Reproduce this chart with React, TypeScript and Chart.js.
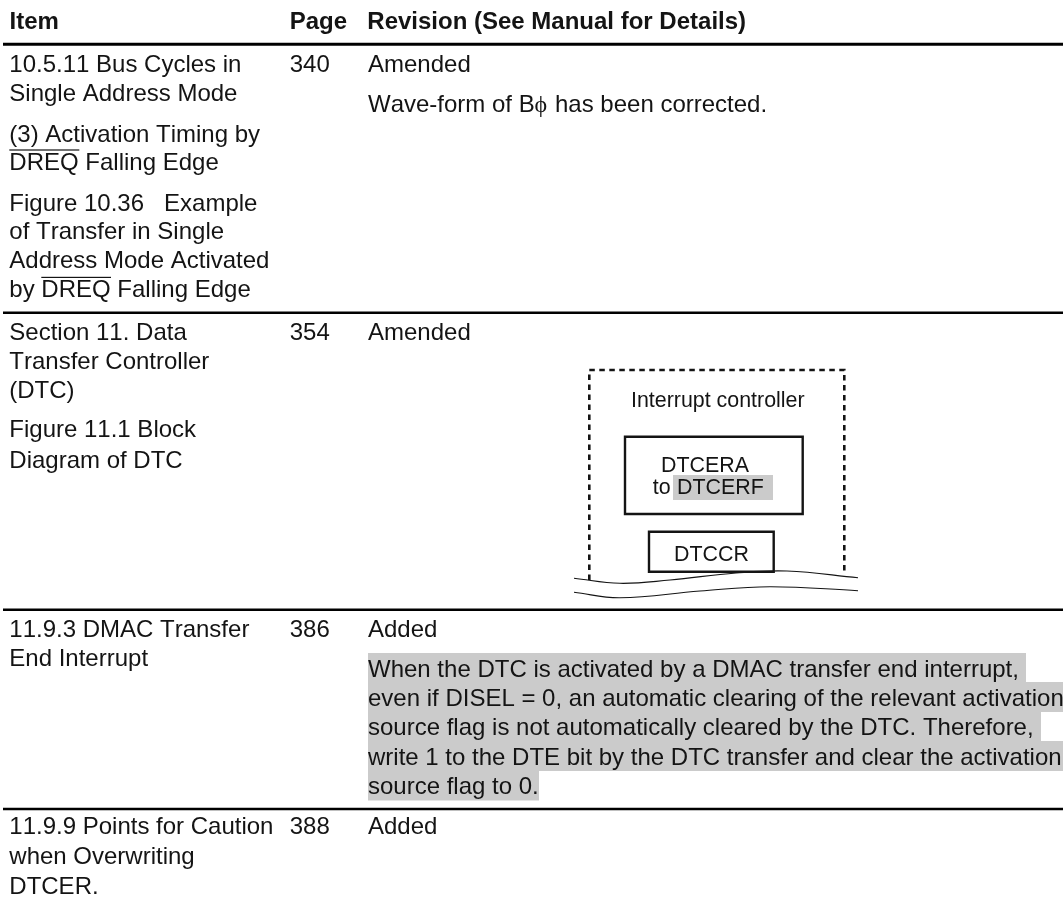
import React, { useEffect, useRef } from "react";
import { Chart, registerables } from "chart.js";

Chart.register(...registerables);

const FONT = '"Liberation Sans", Arial, sans-serif';
const BODY = 24;
const SMALL = 21.4;
const INK = "#141414";
const SHADE = "#cbcbcb";

// Text of the table
const headerLabels = ["Item", "Page", "Revision (See Manual for Details)"];
const itemLines = [
  "10.5.11 Bus Cycles in", "Single Address Mode", "(3) Activation Timing by", "DREQ Falling Edge",
  "Figure 10.36   Example", "of Transfer in Single", "Address Mode Activated", "by DREQ Falling Edge",
  "Section 11. Data", "Transfer Controller", "(DTC)", "Figure 11.1 Block", "Diagram of DTC",
  "11.9.3 DMAC Transfer", "End Interrupt",
  "11.9.9 Points for Caution", "when Overwriting", "DTCER.",
];
const pageLabels = ["340", "354", "386", "388"];
const statusLabels = ["Amended", "Amended", "Added", "Added"];
const shadedLines = [
  "When the DTC is activated by a DMAC transfer end interrupt,",
  "even if DISEL = 0, an automatic clearing of the relevant activation",
  "source flag is not automatically cleared by the DTC. Therefore,",
  "write 1 to the DTE bit by the DTC transfer and clear the activation",
  "source flag to 0.",
];

// Layout, in page pixels
const itemBaselines = [72, 101, 142, 170, 211, 239, 268, 297, 340, 369, 398, 437, 467.5, 637, 666, 834, 864, 894];
const rowBaselines = [72, 340, 637, 834];
const shadedBaselines = [677, 706, 735, 765, 794];
const shadedRows = [
  [653, 682, 1026], [682, 712, 1063], [712, 741, 1041], [741, 771, 1063], [771, 800.5, 539],
];
const ruleRows = [44.3, 312.7, 609.7, 809];

const line = (points: number[][], width: number, extra: object = {}) => ({
  type: "line" as const,
  data: points.map(([x, y]) => ({ x, y })),
  borderColor: INK,
  borderWidth: width,
  pointRadius: 0,
  tension: 0,
  clip: false,
  ...extra,
});

const rules = ruleRows.map((y, i) => line([[3, y], [1063, y]], i === 0 ? 3 : 2.5, { borderColor: "#000" }));
const dashedBox = line([[589.3, 580], [589.3, 370], [844.3, 370], [844.3, 575]], 2.6, { borderDash: [5.5, 4.5] });
const upperBox = line([[625, 436.7], [802.7, 436.7], [802.7, 514], [625, 514], [625, 436.7]], 2.4, { borderJoinStyle: "miter", borderCapStyle: "square" });
const lowerBox = line([[649, 531.7], [773.7, 531.7], [773.7, 571.7], [649, 571.7], [649, 531.7]], 2.4, { borderJoinStyle: "miter", borderCapStyle: "square" });
const waveTop = line([[574, 578.3], [620, 583.3], [670, 580], [736, 573], [787, 571], [858, 577.7]], 1.1, { tension: 0.4 });
const waveBottom = line([[574, 592.3], [620, 597.7], [700, 591], [770, 586.7], [858, 590.7]], 1.1, { tension: 0.4 });

const pagePlugin = {
  id: "page",
  beforeDatasetsDraw(chart: any) {
    const { ctx, scales } = chart;
    const X = (v: number) => scales.x.getPixelForValue(v);
    const Y = (v: number) => scales.y.getPixelForValue(v);
    ctx.save();
    ctx.fillStyle = "#fff";
    ctx.fillRect(0, 0, 1063, 906);
    ctx.fillStyle = SHADE;
    shadedRows.forEach(([t, b, r]) => ctx.fillRect(X(368), Y(t), X(r) - X(368), Y(b) - Y(t)));
    ctx.fillRect(X(673), Y(475), 100, 25);
    ctx.restore();
  },
  afterDatasetsDraw(chart: any) {
    const { ctx, scales } = chart;
    const X = (v: number) => scales.x.getPixelForValue(v);
    const Y = (v: number) => scales.y.getPixelForValue(v);
    const put = (s: string, x: number, y: number, size = BODY, weight = "normal", family = FONT) => {
      ctx.font = `${weight} ${size}px ${family}`;
      ctx.fillText(s, X(x), Y(y));
    };
    ctx.save();
    ctx.fillStyle = INK;
    ctx.textBaseline = "alphabetic";
    ctx.fontKerning = "none";
    [9.5, 289.7, 367.3].forEach((x, i) => put(headerLabels[i], x, 29, BODY, "bold"));
    itemLines.forEach((s, i) => put(s, 9.3, itemBaselines[i]));
    pageLabels.forEach((s, i) => put(s, 289.7, rowBaselines[i]));
    statusLabels.forEach((s, i) => put(s, 368, rowBaselines[i]));
    shadedLines.forEach((s, i) => put(s, 368, shadedBaselines[i]));
    put("Wave-form of B", 368, 112);
    put("\u03D5", 534.5, 112, 24, "normal", '"Liberation Serif"');
    put("has been corrected.", 555, 112);
    put("Interrupt controller", 631, 406.7, SMALL);
    put("DTCERA", 661, 471.7, SMALL);
    put("to", 652.7, 494, SMALL);
    put("DTCERF", 677, 494, SMALL);
    put("DTCCR", 674, 561, SMALL);
    ctx.fillRect(X(9.3), Y(149.4), 70, 1.2);
    ctx.fillRect(X(41.3), Y(276.8), 69.7, 1.2);
    ctx.restore();
  },
};

export default function App() {
  const ref = useRef<HTMLCanvasElement>(null);
  useEffect(() => {
    const chart = new Chart(ref.current!, {
      type: "line",
      data: { datasets: [...rules, dashedBox, upperBox, lowerBox, waveTop, waveBottom] as any },
      options: {
        animation: false,
        responsive: false,
        layout: { padding: 0 },
        plugins: { legend: { display: false }, tooltip: { enabled: false } },
        scales: {
          x: { type: "linear", min: 0, max: 1063, display: false },
          y: { type: "linear", min: 0, max: 906, reverse: true, display: false },
        },
      },
      plugins: [pagePlugin],
    });
    return () => chart.destroy();
  }, []);
  return (
    <div style={{ position: "absolute", left: 0, top: 0, width: 1063, height: 906, overflow: "hidden", background: "#fff" }}>
      <canvas ref={ref} width={1063} height={906} style={{ display: "block" }} />
    </div>
  );
}
